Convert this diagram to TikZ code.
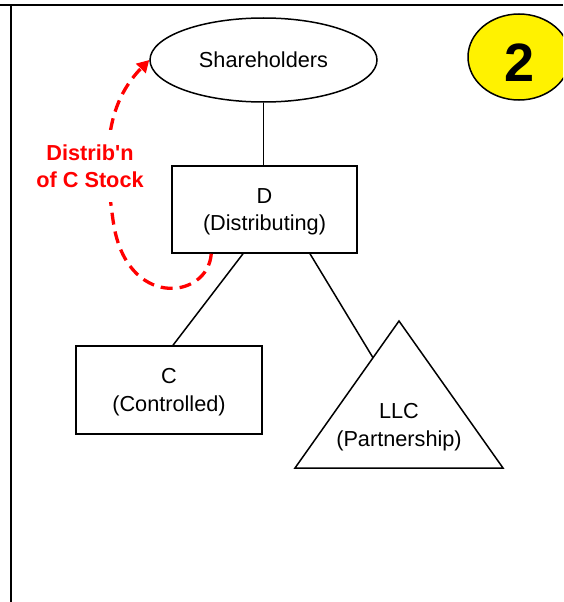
\documentclass[tikz,border=0pt]{standalone}
\usepackage{fontspec}
\newfontfamily\arial{Liberation Sans}
\usetikzlibrary{shapes.geometric,arrows.meta,calc}
\begin{document}
\begin{tikzpicture}[x=1pt,y=-1pt,
  line/.style={draw=black, line width=1.5pt},
  txt/.style={font=\arial\fontsize{21.7}{27.5}\selectfont, align=center, inner sep=0pt},
  box/.style={line, txt, rectangle, text height=47pt},
  redlbl/.style={font=\arial\bfseries\fontsize{21.7}{27.5}\selectfont, text=red, align=center, fill=white, inner xsep=2pt, inner ysep=14pt},
  redarrow/.style={draw=red, line width=3.3pt, dash pattern=on 12pt off 7pt, -{Triangle[length=12pt,width=13pt]}}
]
\useasboundingbox (0,0) rectangle (563,602);
\clip (0,0) rectangle (563,602);
% frame lines
\draw[line width=2.4pt] (0,5) -- (563,5);
\draw[line width=2.4pt] (11,5) -- (11,602);
% badge
\node[ellipse, draw=black, line width=1.5pt, fill=yellow, minimum width=102pt, minimum height=86pt, inner sep=0pt] (two) at (519,57) {};
\node[font=\arial\bfseries\fontsize{54}{54}\selectfont, inner sep=0pt] (twotxt) at ($(two.center)+(0.5,5.5)$) {2};
% nodes
\node[ellipse, line, txt, minimum width=227pt, minimum height=84pt] (sh) at (263.5,60) {Shareholders};
\node[box, minimum width=185pt, minimum height=87pt] (D) at (264.5,209.5) {D\\(Distributing)};
\node[box, minimum width=186pt, minimum height=88pt] (C) at (169,390) {C\\(Controlled)};
\coordinate (apex) at (399,321);
\coordinate (bl) at (295,468);
\coordinate (br) at (503,468);
\draw[line, line join=miter] (apex) -- (bl) -- (br) -- cycle;
\node[txt] (llc) at (399,427) {LLC\\(Partnership)};
% connectors
\draw[line] (sh.south) -- (sh.south |- D.north);
\draw[line] ($(D.south)+(-21.5,0)$) -- ($(C.north)+(4,0)$);
\draw[line] ($(D.south)+(45.5,0)$) -- ($(apex)!0.25!(bl)$);
% distribution arrow
\draw[redarrow] ($(D.south west)+(40,0)$) .. controls (208,300) and (125,310) .. (113,220) .. controls (106,170) and (100,110) .. (sh.west);
\node[redlbl] (lbl) at (90,166) {Distrib'n\\of C Stock};
\end{tikzpicture}
\end{document}
